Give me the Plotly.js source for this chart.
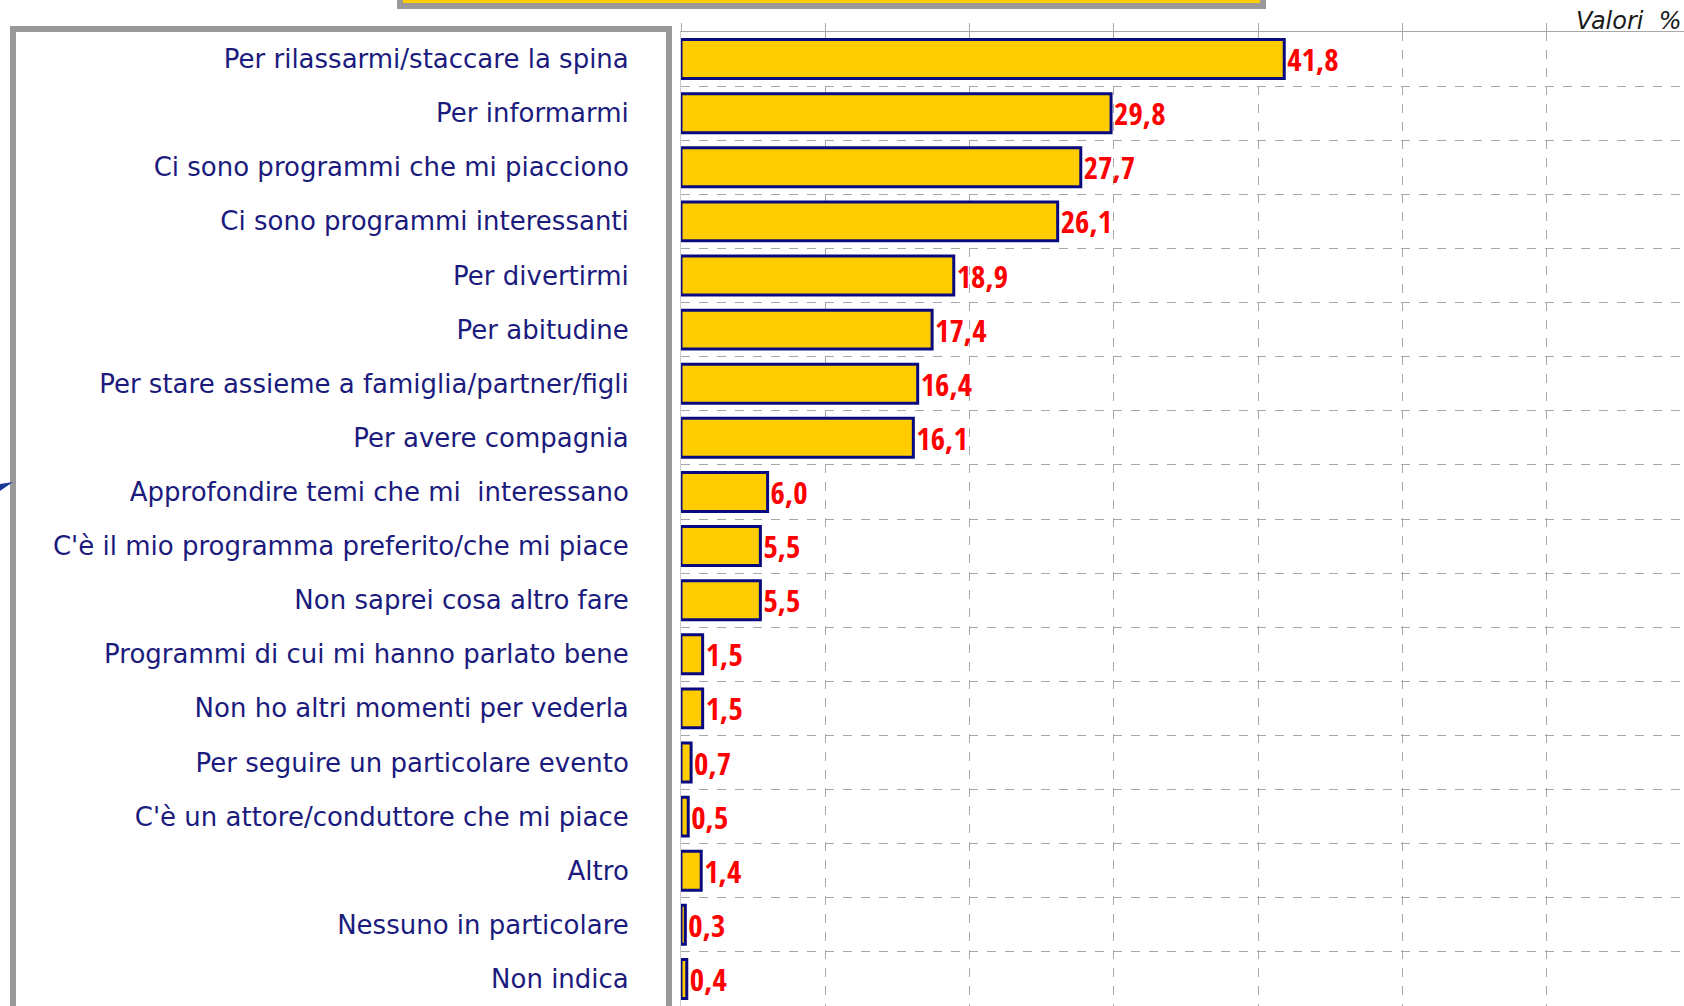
<!DOCTYPE html>
<html>
<head>
<meta charset="utf-8">
<script src="https://cdn.plot.ly/plotly-3.0.1.min.js"></script>
<style>
html,body{margin:0;padding:0;background:#fff;}
#chart{width:1684px;height:1006px;}
</style>
</head>
<body>
<div id="chart"></div>
<script>
const categories = [
  "Per rilassarmi/staccare la spina",
  "Per informarmi",
  "Ci sono programmi che mi piacciono",
  "Ci sono programmi interessanti",
  "Per divertirmi",
  "Per abitudine",
  "Per stare assieme a famiglia/partner/figli",
  "Per avere compagnia",
  "Approfondire temi che mi  interessano",
  "C'è il mio programma preferito/che mi piace",
  "Non saprei cosa altro fare",
  "Programmi di cui mi hanno parlato bene",
  "Non ho altri momenti per vederla",
  "Per seguire un particolare evento",
  "C'è un attore/conduttore che mi piace",
  "Altro",
  "Nessuno in particolare",
  "Non indica"
];
const values = [41.8, 29.8, 27.7, 26.1, 18.9, 17.4, 16.4, 16.1, 6.0, 5.5, 5.5, 1.5, 1.5, 0.7, 0.5, 1.4, 0.3, 0.4];
const valueLabels = values.map(v => v.toFixed(1).replace('.', ','));
const unitLabel = "Valori  %";

const W = 1684, H = 1006;
const L = 681, T = 32;
const PW = W - L, PH = H - T;
const px = x => (x - L) / PW;
const py = y => (H - y) / PH;

const trace = {
  type: 'bar',
  orientation: 'h',
  y: categories,
  x: values,
  text: valueLabels,
  textposition: 'outside',
  cliponaxis: false,
  constraintext: 'none',
  textfont: {family: '"Open Sans Condensed", "Roboto Condensed", "DejaVu Sans Condensed", sans-serif', size: 31, color: '#ff0000'},
  marker: {color: '#ffcc00', line: {color: '#0a0a80', width: 3}},
  width: 0.72,
  hoverinfo: 'none'
};

const layout = {
  width: W, height: H,
  margin: {l: L, r: 0, t: T, b: 0, autoexpand: false},
  paper_bgcolor: '#ffffff',
  plot_bgcolor: '#ffffff',
  showlegend: false,
  xaxis: {
    side: 'top', range: [0, 69.5], dtick: 10, tick0: 0,
    showticklabels: false, ticks: 'outside', ticklen: 8, tickcolor: '#a8a8a8',
    showline: true, linecolor: '#a8a8a8', linewidth: 1.5,
    showgrid: true, gridcolor: '#a8a8a8', griddash: 'dash', gridwidth: 1,
    zeroline: false, automargin: false, fixedrange: true
  },
  yaxis: {
    type: 'category', autorange: 'reversed', tickson: 'boundaries',
    showgrid: true, gridcolor: '#a8a8a8', griddash: 'dash', gridwidth: 1,
    showline: true, linecolor: '#cccccc', linewidth: 1,
    ticks: '', ticklabelstandoff: 46,
    tickfont: {family: '"DejaVu Sans", sans-serif', size: 26, color: '#1b1b7d'},
    automargin: false, fixedrange: true
  },
  shapes: [
    {type: 'rect', xref: 'paper', yref: 'paper', x0: px(400), x1: px(1263), y0: py(6), y1: py(-30),
     fillcolor: '#ffcc00', line: {color: '#999999', width: 6}, layer: 'above'},
    {type: 'rect', xref: 'paper', yref: 'paper', x0: px(13), x1: px(669), y0: py(1030), y1: py(29),
     fillcolor: 'rgba(0,0,0,0)', line: {color: '#999999', width: 6}, layer: 'above'},
    {type: 'path', xref: 'paper', yref: 'paper',
     path: 'M ' + px(0) + ' ' + py(484) + ' L ' + px(13) + ' ' + py(482) + ' L ' + px(0) + ' ' + py(491) + ' Z',
     fillcolor: '#1a3a9a', line: {width: 0}, layer: 'above'}
  ],
  annotations: [
    {text: unitLabel, xref: 'paper', yref: 'paper', x: 1, y: py(21), xanchor: 'right', yanchor: 'middle',
     showarrow: false, font: {family: '"DejaVu Sans", sans-serif', size: 24, color: '#1a1a1a', style: 'italic'}}
  ]
};

Plotly.newPlot('chart', [trace], layout, {displayModeBar: false, staticPlot: true});
</script>
</body>
</html>
